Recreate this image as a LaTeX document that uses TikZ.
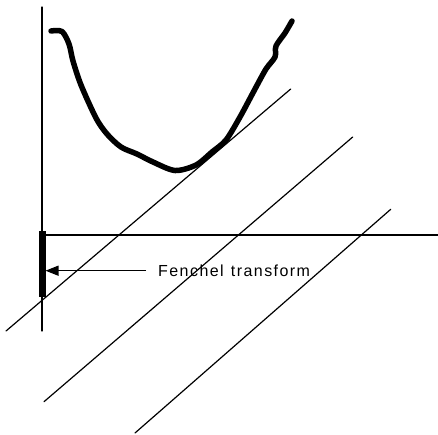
\documentclass[tikz,border=0pt]{standalone}
\usepackage{fontspec}
\newfontfamily\labelfont[LetterSpace=9]{Liberation Sans}
\usetikzlibrary{arrows.meta}
\tikzset{
  thinline/.style={line width=1.2pt, line cap=round},
  curveline/.style={line width=5.5pt, line cap=round, line join=round},
  barline/.style={line width=7pt},
  arrowline/.style={line width=1.2pt, -{Triangle[length=13pt,width=10pt]}},
  lbl/.style={inner sep=0pt, anchor=west, font=\labelfont\fontsize{16}{18}\selectfont}
}
\begin{document}
\begin{tikzpicture}[x=1pt,y=-1pt]
\useasboundingbox (0,0) rectangle (438,434);
% axis
\coordinate (axtop) at (42,7);
\coordinate (axbot) at (42,331);
\draw[thinline] (axtop) -- (axbot);
% horizontal line
\coordinate (hl) at (45,235);
\coordinate (hr) at (438,235);
\draw[thinline] (hl) -- (hr);
% diagonal lines
\coordinate (d1a) at (6,331);   \coordinate (d1b) at (290.7,89);
\coordinate (d2a) at (44,401.7); \coordinate (d2b) at (352.7,137);
\coordinate (d3a) at (135,433); \coordinate (d3b) at (390.7,209.3);
\draw[thinline] (d1a) -- (d1b);
\draw[thinline] (d2a) -- (d2b);
\draw[thinline] (d3a) -- (d3b);
% convex curve
\draw[curveline] plot[smooth, tension=0.5] coordinates {
 (51,31) (62,31.5) (69,44) (73,61) (81,85) (96,118) (107,134) (121,147)
 (137,154) (153,162) (175,170.5) (196,165) (212,152) (226,140) (240,117)
 (255,89) (266,69) (275,57) (276,46) (285,33) (292,21)};
% Fenchel transform bar
\coordinate (bartop) at (42,231);
\coordinate (barbot) at (42,297);
\draw[barline] (bartop) -- (barbot);
\coordinate (tip) at (45.5,270.7);
\node[lbl] (label) at (158,270.5) {Fenchel\hspace{0.45em}transform};
\coordinate (tail) at (146,270.7);
\draw[arrowline] (tail) -- (tip);
\end{tikzpicture}
\end{document}
